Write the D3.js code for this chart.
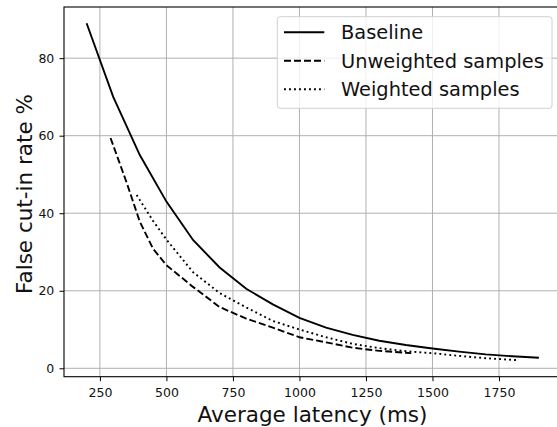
<!DOCTYPE html>
<html><head><meta charset="utf-8">
<script src="https://cdn.jsdelivr.net/npm/d3@7"></script>
<style>
html,body{margin:0;padding:0;background:#fff;}
svg{display:block;}
text{font-family:"DejaVu Sans",sans-serif;}
</style></head>
<body><svg id="c" width="557" height="427"></svg>
<script>
const baselineX = [200,300,400,500,600,700,800,900,1000,1100,1200,1300,1400,1500,1600,1700,1800,1900];
const baselineY = [89,70,55,43,33.1,26,20.5,16.5,13,10.5,8.6,7.1,6,5.1,4.3,3.6,3.1,2.7];
const unweightedX = [290,350,400,450,500,600,700,800,900,1000,1100,1200,1300,1420];
const unweightedY = [59.4,48,37.8,30.8,26.6,21,15.8,12.8,10.5,8,6.7,5.3,4.5,3.9];
const weightedX = [388,450,500,600,700,800,900,1000,1100,1200,1300,1400,1500,1600,1700,1820];
const weightedY = [44.7,38,33.2,24.8,19.4,15.7,12.2,10,8,6.3,5.2,4.4,3.9,3.2,2.6,2.1];
const xTicks = [250,500,750,1000,1250,1500,1750];
const yTicks = [0,20,40,60,80];
const seriesNames = ["Baseline","Unweighted samples","Weighted samples"];

const svg = d3.select("#c");
const L = 64, T = 7, R = 561.5, B = 376.7;
const x = d3.scaleLinear().domain([115,1985]).range([L,R]);
const y = d3.scaleLinear().domain([-2.17,93.2]).range([B,T]);

// grid
const g = svg.append("g");
g.selectAll(".gx").data(xTicks).enter().append("line")
  .attr("x1",d=>x(d)).attr("x2",d=>x(d)).attr("y1",T).attr("y2",B)
  .attr("stroke","#b0b0b0").attr("stroke-width",1);
g.selectAll(".gy").data(yTicks).enter().append("line")
  .attr("x1",L).attr("x2",R).attr("y1",d=>y(d)).attr("y2",d=>y(d))
  .attr("stroke","#b0b0b0").attr("stroke-width",1);

// lines
const LW = 1.9;
const styles = [
  {dash:null},
  {dash:"7,3"},
  {dash:"1.9,3.1"}
];
const data = [
  baselineX.map((v,i)=>[v,baselineY[i]]),
  unweightedX.map((v,i)=>[v,unweightedY[i]]),
  weightedX.map((v,i)=>[v,weightedY[i]])
];
const line = d3.line().x(d=>x(d[0])).y(d=>y(d[1]));
data.forEach((d,i)=>{
  svg.append("path").datum(d).attr("d",line).attr("fill","none")
    .attr("stroke","#000").attr("stroke-width",LW)
    .attr("stroke-dasharray",styles[i].dash);
});

// axes
const xAxis = d3.axisBottom(x).tickValues(xTicks).tickFormat(d3.format("d")).tickSize(4.5).tickPadding(7);
const yAxis = d3.axisLeft(y).tickValues(yTicks).tickFormat(d3.format("d")).tickSize(4.5).tickPadding(5.2);
const gx = svg.append("g").attr("transform",`translate(0,${B})`).call(xAxis);
const gy = svg.append("g").attr("transform",`translate(${L},0)`).call(yAxis);
[gx,gy].forEach(a=>{
  a.select(".domain").remove();
  a.selectAll("line").attr("stroke","#000").attr("stroke-width",1);
  a.selectAll("text").attr("font-family","DejaVu Sans").attr("font-size",12.5).attr("fill","#111");
});
// frame
svg.append("rect").attr("x",L).attr("y",T).attr("width",R-L).attr("height",B-T)
  .attr("fill","none").attr("stroke","#000").attr("stroke-width",1.1);

// labels
svg.append("text").attr("x",312.5).attr("y",422.3).attr("text-anchor","middle")
  .attr("font-size",21.5).attr("fill","#111").text("Average latency (ms)");
svg.append("text").attr("transform",`translate(31.7,194) rotate(-90)`)
  .attr("text-anchor","middle").attr("font-size",21.5).attr("fill","#111").text("False cut-in rate %");

// legend
const lg = svg.append("g");
lg.append("rect").attr("x",277.3).attr("y",16.7).attr("width",274.7).attr("height",91.6)
  .attr("rx",3).attr("fill","#fff").attr("fill-opacity",0.8)
  .attr("stroke","#d0d0d0").attr("stroke-width",1);
seriesNames.forEach((n,i)=>{
  const yy = 32.3 + i*28.5;
  lg.append("line").attr("x1",284).attr("x2",324.3).attr("y1",yy).attr("y2",yy)
    .attr("stroke","#000").attr("stroke-width",LW).attr("stroke-dasharray",styles[i].dash);
  lg.append("text").attr("x",341).attr("y",yy).attr("dy","0.36em")
    .attr("font-size",19.4).attr("fill","#111").text(n);
});
</script></body></html>
